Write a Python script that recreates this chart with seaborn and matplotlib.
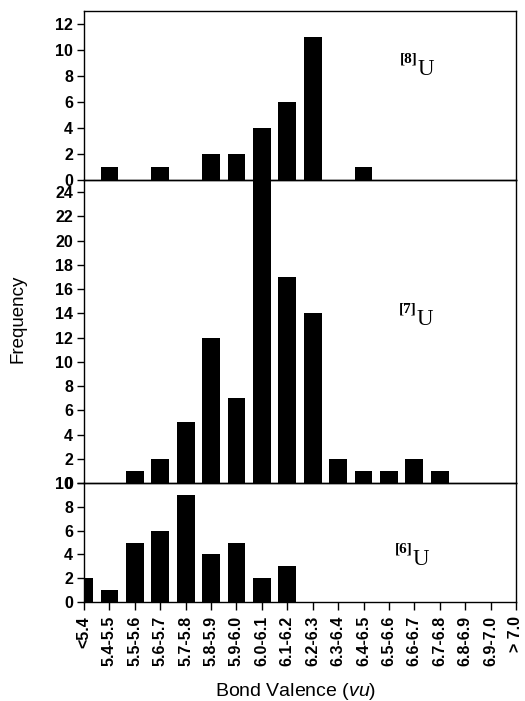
import matplotlib
matplotlib.use("Agg")
import matplotlib.pyplot as plt
import seaborn as sns

# Bond-valence bins shared by all three panels
categories = ["<5.4", "5.4-5.5", "5.5-5.6", "5.6-5.7", "5.7-5.8", "5.8-5.9",
              "5.9-6.0", "6.0-6.1", "6.1-6.2", "6.2-6.3", "6.3-6.4", "6.4-6.5",
              "6.5-6.6", "6.6-6.7", "6.7-6.8", "6.8-6.9", "6.9-7.0", "> 7.0"]

# Frequencies for each uranium coordination number
freq_u8 = [0, 1, 0, 1, 0, 2, 2, 4, 6, 11, 0, 1, 0, 0, 0, 0, 0, 0]
freq_u7 = [0, 0, 1, 2, 5, 12, 7, 25, 17, 14, 2, 1, 1, 2, 1, 0, 0, 0]
freq_u6 = [2, 1, 5, 6, 9, 4, 5, 2, 3, 0, 0, 0, 0, 0, 0, 0, 0, 0]

panels = [
    ("8", freq_u8, 13, [0, 2, 4, 6, 8, 10, 12], (13.13, 0.62)),
    ("7", freq_u7, 25, list(range(0, 25, 2)), (13.09, 0.52)),
    ("6", freq_u6, 10, [0, 2, 4, 6, 8, 10], (12.93, 0.31)),
]

sns.set_theme(style="ticks")
plt.rcParams["font.family"] = ["Liberation Sans", "DejaVu Sans"]
plt.rcParams["mathtext.fontset"] = "custom"
plt.rcParams["mathtext.it"] = "Liberation Sans:italic"
plt.rcParams["mathtext.rm"] = "Liberation Sans"

W, H = 525, 701
fig = plt.figure(figsize=(W / 100, H / 100), dpi=100)

left, right = 84 / W, 516 / W
# pixel extents (top, bottom) of each panel
extents = [(11, 180), (180, 483), (483, 602)]

for i, ((cn, vals, ymax, yticks, (tx, ty)), (ptop, pbot)) in enumerate(zip(panels, extents)):
    ax = fig.add_axes([left, 1 - pbot / H, right - left, (pbot - ptop) / H])
    sns.barplot(x=categories, y=vals, order=categories, color="black",
                width=0.7, saturation=1, linewidth=0, ax=ax)
    ax.set_xlim(0, 17)
    ax.set_ylim(0, ymax)
    ax.set_yticks(yticks)
    ax.set_facecolor("none")
    ax.set_xlabel("")
    ax.set_ylabel("")
    for sp in ax.spines.values():
        sp.set_visible(True)
        sp.set_color("black")
        sp.set_linewidth(1.0)
    ax.tick_params(axis="y", direction="out", length=5, width=1, pad=3,
                   labelsize=11.5, colors="black")
    for lab in ax.get_yticklabels():
        lab.set_fontweight("bold")
    if i < 2:
        ax.tick_params(axis="x", bottom=False, labelbottom=False)
    else:
        ax.set_xticks(range(len(categories)))
        ax.set_xticklabels(categories, rotation=90)
        ax.tick_params(axis="x", direction="out", length=6, width=1, pad=4,
                       labelsize=11.5, colors="black")
        for lab in ax.get_xticklabels():
            lab.set_fontweight("bold")

    # coordination label, e.g. [8]U
    ax.text(tx, ty, "U", transform=ax.get_xaxis_transform(), ha="left",
            va="baseline", fontsize=16.5, family="Liberation Serif", color="black")
    ax.annotate(f"[{cn}]", xy=(tx, ty), xycoords=ax.get_xaxis_transform(),
                xytext=(0, 9), textcoords="offset points", ha="right",
                va="baseline", fontsize=11, fontweight="bold",
                family="Liberation Serif", color="black")

fig.text(18.5 / W, 1 - 319 / H, "Frequency", rotation=90, ha="center",
         va="center", fontsize=13.5, color="black")
fig.text(296 / W, 1 - 692 / H, r"Bond Valence ($\mathit{vu}$)", ha="center",
         va="center", fontsize=14, color="black")

fig.savefig("out.png", dpi=100, facecolor="white")
